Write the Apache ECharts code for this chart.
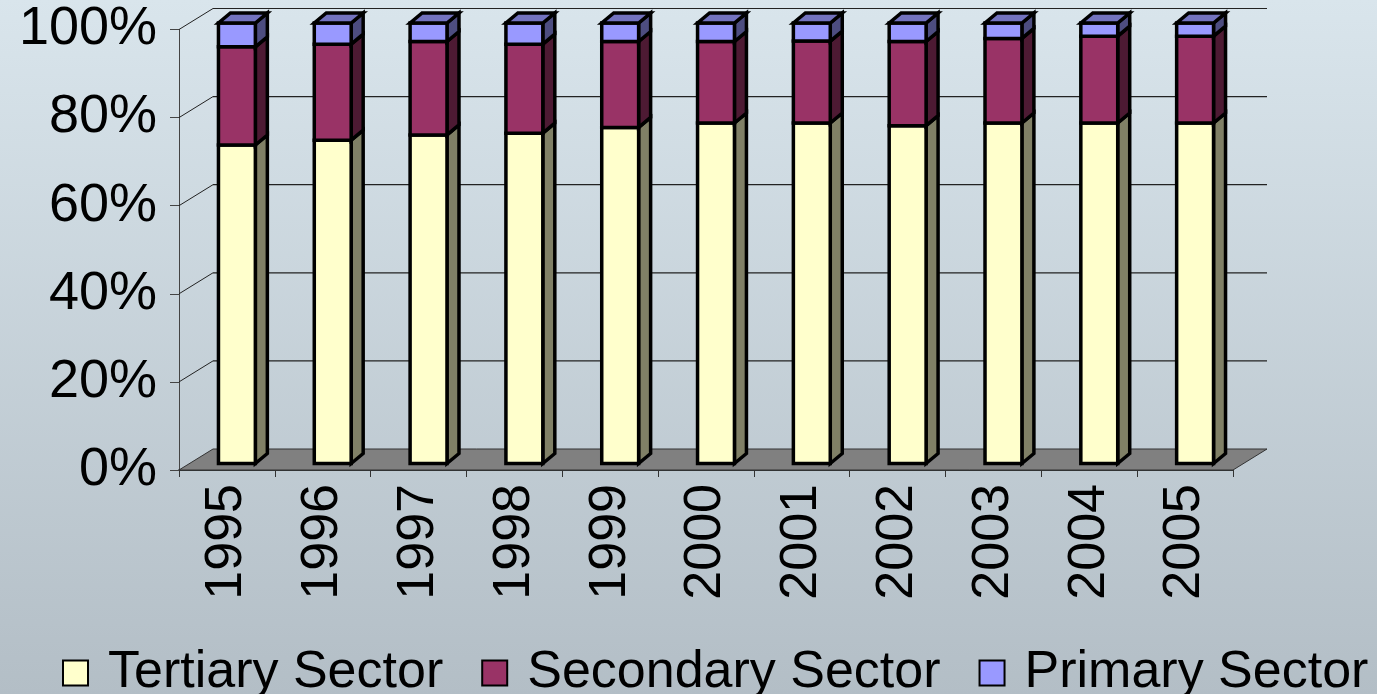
<!DOCTYPE html>
<html>
<head>
<meta charset="utf-8">
<script src="https://cdn.jsdelivr.net/npm/echarts@6/dist/echarts.min.js"></script>
<style>
html,body{margin:0;padding:0;}
#chart{width:1377px;height:694px;}
</style>
</head>
<body>
<div id="chart"></div>
<script>
// ---- data ----
const years = ['1995','1996','1997','1998','1999','2000','2001','2002','2003','2004','2005'];
const tertiary  = [72.3, 73.4, 74.6, 75.0, 76.3, 77.3, 77.3, 76.7, 77.3, 77.3, 77.3];
const secondary = [22.3, 21.8, 21.2, 20.2, 19.5, 18.5, 18.6, 19.1, 19.2, 19.7, 19.7];
const primary   = [5.4, 4.8, 4.2, 4.8, 4.2, 4.2, 4.1, 4.2, 3.5, 3.0, 3.0];
const yTicks = [0, 20, 40, 60, 80, 100];
const seriesNames = ['Tertiary Sector', 'Secondary Sector', 'Primary Sector'];

// ---- style ----
const FONT = "'Liberation Sans', Arial, sans-serif";
const WALL_DX = 34, WALL_DY = -21;      // depth of the chart box
const BAR_RATIO = 0.385;                 // bar width / category width
const OFF_X = 10, OFF_Y = -6.5;          // bar front plane offset
const BAR_DX = 12, BAR_DY = -10;         // bar depth
const palette = [
  {front:'#FFFFCC', side:'#808066', top:'#BFBF99'},
  {front:'#993366', side:'#4D1A33', top:'#73264D'},
  {front:'#9999FF', side:'#4D4D80', top:'#7373BF'}
];

const chart = echarts.init(document.getElementById('chart'), null, {renderer:'canvas'});

function stackedData(idx) {
  return years.map((y, i) => {
    let lo = 0;
    const layers = [tertiary, secondary, primary];
    for (let k = 0; k < idx; k++) lo += layers[k][i];
    return [i, lo, lo + layers[idx][i]];
  });
}

function barRender(idx) {
  const col = palette[idx];
  const isTop = idx === 2;
  return function (params, api) {
    const i = api.value(0), lo = api.value(1), hi = api.value(2);
    const band = api.size([1, 0])[0];
    const pLo = api.coord([i, lo]);
    const pHi = api.coord([i, hi]);
    const w = band * BAR_RATIO;
    const x0 = pLo[0] - w / 2 + OFF_X, x1 = x0 + w;
    const yb = pLo[1] + OFF_Y, yt = pHi[1] + OFF_Y;
    const st = {stroke:'#000', lineWidth:3.5, lineJoin:'miter'};
    const children = [
      {type:'polygon', shape:{points:[[x1,yb],[x1+BAR_DX,yb+BAR_DY],[x1+BAR_DX,yt+BAR_DY],[x1,yt]]},
       style:Object.assign({fill:col.side}, st)},
      {type:'polygon', shape:{points:[[x0,yb],[x1,yb],[x1,yt],[x0,yt]]},
       style:Object.assign({fill:col.front}, st)}
    ];
    if (isTop) {
      children.push({type:'polygon', shape:{points:[[x0,yt],[x1,yt],[x1+BAR_DX,yt+BAR_DY],[x0+BAR_DX,yt+BAR_DY]]},
        style:Object.assign({fill:col.top}, st)});
    }
    return {type:'group', children};
  };
}

function frameRender(params, api) {
  const v = api.value(1);
  const cs = params.coordSys;
  const xl = cs.x, xr = cs.x + cs.width;
  const y = api.coord([0, v])[1];
  const children = [];
  if (v === 0) {
    children.push({type:'polygon', shape:{points:[[xl,y],[xl+WALL_DX,y+WALL_DY],[xr+WALL_DX,y+WALL_DY],[xr,y]]},
      style:{fill:'#808080', stroke:'#333', lineWidth:1}});
  } else {
    children.push({type:'line', shape:{x1:xl, y1:y, x2:xl+WALL_DX, y2:y+WALL_DY},
      style:{stroke:'#222', lineWidth:1}});
    children.push({type:'line', shape:{x1:xl+WALL_DX, y1:y+WALL_DY, x2:xr+WALL_DX, y2:y+WALL_DY},
      style:{stroke:'#222', lineWidth:1.2}});
  }
  return {type:'group', children};
}

const series = [{
  type:'custom', name:'frame', z:1, silent:true,
  renderItem: frameRender,
  encode:{x:0, y:1},
  data: yTicks.map(v => [0, v])
}];
for (let k = 0; k < 3; k++) {
  series.push({
    type:'custom', name:seriesNames[k], z:5,
    renderItem: barRender(k),
    encode:{x:0, y:[1,2]},
    itemStyle:{color:palette[k].front, borderColor:'#000', borderWidth:2},
    data: stackedData(k)
  });
}

chart.setOption({
  animation:false,
  backgroundColor:{type:'linear', x:0, y:0, x2:0, y2:1, colorStops:[
    {offset:0, color:'#d9e5ec'}, {offset:1, color:'#b3bec6'}]},
  grid:{left:179, right:144, top:29.5, bottom:224, containLabel:false},
  legend:{
    data:seriesNames, left:57, top:642, itemWidth:25, itemHeight:25, itemGap:38,
    icon:'rect',
    textStyle:{fontFamily:FONT, fontSize:52, color:'#000', padding:[0,0,0,15]}
  },
  xAxis:{
    type:'category', data:years,
    axisLine:{show:true, lineStyle:{color:'#000', width:1.5}},
    axisTick:{show:true, length:7, lineStyle:{color:'#333'}},
    axisLabel:{rotate:90, margin:14, fontFamily:FONT, fontSize:52, color:'#000'},
    splitLine:{show:false}
  },
  yAxis:{
    type:'value', min:0, max:100, interval:20,
    axisLine:{show:true, lineStyle:{color:'#444', width:1}},
    axisTick:{show:true, length:9, lineStyle:{color:'#444'}},
    axisLabel:{formatter:'{value}%', margin:22, fontFamily:FONT, fontSize:54, color:'#000'},
    splitLine:{show:false}
  },
  series
});
</script>
</body>
</html>
